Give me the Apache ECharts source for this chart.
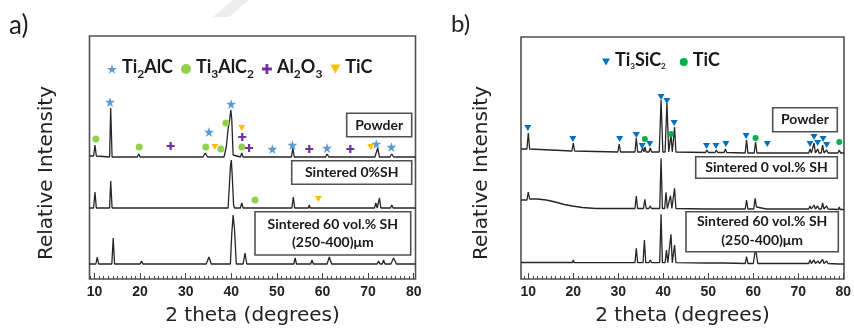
<!DOCTYPE html>
<html><head><meta charset="utf-8">
<script src="https://cdn.jsdelivr.net/npm/echarts@6/dist/echarts.min.js"></script>
<style>html,body{margin:0;padding:0;background:#fff}#c{width:854px;height:330px}</style>
</head><body><div id="c"></div>
<script>
// ---- axis ticks / labels ----
const twoThetaLabels = [10, 20, 30, 40, 50, 60, 70, 80];
const minorTicks = Array.from({length: 72}, (_, i) => 9 + i);

// ---- Panel a) Ti2AlC system : [2theta, intensity (offset included)] ----
const powderA = [[8.9,123],[9.8,123],[10.1,134],[10.4,123],[13.3,122],[13.55,171],[13.85,122],[19.4,122],[19.7,125],[20.0,122],
 [33.8,122],[34.3,126],[34.8,122],[36.4,122],[36.7,124],[37.0,122],[38.4,122],[38.9,132],[39.3,150],[39.6,158],[39.9,169],[40.1,160],[40.4,124],[40.7,122],
 [42.0,122],[42.3,126],[42.6,122],[48.9,122],[49.1,124],[49.3,122],[53.2,122],[53.5,131],[53.8,122],[56.9,122],[57.1,124],[57.3,122],
 [60.7,122],[61.0,125],[61.4,122],[71.5,122],[71.7,124],[72.1,131],[72.5,122],[74.8,122],[75.2,125],[75.6,122],[80.4,122]];
const sintered0A = [[8.9,71],[9.8,71],[10.1,87],[10.4,71],[13.3,71],[13.55,98],[13.85,71],[19.4,71],[19.7,73],[20.0,71],
 [34.1,71],[34.4,73],[34.8,71],[39.3,71],[39.6,95],[39.8,112],[40.0,119],[40.2,104],[40.5,74],[40.7,71],
 [42.0,71],[42.3,76],[42.6,71],[48.9,71],[49.1,72],[49.3,71],[53.3,71],[53.6,82],[53.9,71],[56.9,71],[57.1,74],[57.3,71],
 [60.8,71],[61.1,73],[61.4,71],[71.4,71],[71.7,76],[72.0,71],[72.3,71],[72.5,81],[72.8,71],[74.9,71],[75.2,74],[75.5,71],[80.4,71]];
const sintered60A = [[8.9,15],[10.3,15],[10.6,22],[10.9,15],[13.8,15],[14.1,41],[14.4,15],[20.0,15],[20.3,18],[20.6,15],
 [34.5,15],[35.1,22],[35.6,15],[36.5,15],[36.7,17],[36.9,15],[37.6,15],[37.8,17],[38.0,15],[39.8,15],[40.1,45],[40.4,64],[40.7,50],[41.1,15],
 [42.6,15],[43.0,26],[43.4,15],[49.4,15],[49.6,17],[49.8,15],[53.7,15],[54.0,21],[54.3,15],[57.4,15],[57.7,19],[58.0,15],
 [61.0,15],[61.5,22],[62.0,15],[72.0,15],[72.3,18],[72.6,15],[73.1,15],[73.4,19],[73.7,15],[75.0,15],[75.6,21],[76.2,15],[80.4,15]];
// phase markers a)
const ti2alcMarks = [[13.4,177],[39.95,175],[35.1,147],[49.0,130],[53.4,134],[61.0,131],[71.8,135],[75.1,132]];
const ti3alc2Marks = [[10.3,140],[19.8,132],[34.4,132],[37.7,130],[38.8,156],[42.3,132],[45.2,79]];
const al2o3Marks = [[26.7,133],[42.4,142],[43.9,131],[57.1,130],[66.1,130]];
const ticMarksA = [[36.4,132],[42.3,151],[70.6,132],[59.1,80]];

// ---- Panel b) Ti3SiC2 system ----
const powderB = [[8.4,130],[9.7,130],[10.0,146],[10.3,130],[15,129],[19.7,128],[20.0,136],[20.3,128],[25,127.5],[29.9,127],[30.2,135],[30.5,127],
 [33.7,127],[34.0,141],[34.3,127],[35.1,127],[35.4,131],[35.7,127],[35.9,132],[36.2,127],[36.8,127],[37.1,131],[37.4,127],
 [39.1,127],[39.5,179],[39.9,127],[40.4,127],[40.8,176],[41.2,127],[41.4,127],[41.7,144],[42.0,127],[42.2,127],[42.5,152],[42.8,127],
 [49.4,126.5],[49.7,129],[50.0,126.5],[51.5,126.5],[51.8,129],[52.1,126.5],[53.5,126.5],[53.8,130],[54.1,126.5],[58.2,126],[58.5,139],[58.8,126],
 [60.2,126],[60.5,137],[60.8,126],[62.8,126],[63.1,128],[63.4,126],[72.3,126],[72.6,130],[72.9,126],[73.2,126],[73.5,136],[73.8,126],
 [74.0,126],[74.3,130],[74.6,126],[75.1,126],[75.4,134],[75.7,126],[76.0,126],[76.3,129],[76.6,126],[78.8,126],[79.1,129],[79.4,126],[80.15,126]];
const sintered0B = [[8.4,79],[9.7,79],[10.0,87],[10.3,80],[12,80],[14,79],[16,77],[18,74.5],[19.8,73],[20.0,75],[20.2,72.5],[22,71.5],[25,70.5],
 [30.0,70.5],[30.2,72],[30.4,70.5],[33.7,70.5],[34.0,83],[34.3,70.5],[35.6,70.5],[35.9,79.7],[36.2,70.5],[36.8,70.5],[37.1,73],[37.4,70.5],
 [39.2,70.5],[39.5,120.7],[39.8,70.5],[40.3,70.5],[40.6,86.7],[40.9,70.5],[41.3,70.5],[41.6,83.3],[41.9,70.5],[42.2,70.5],[42.5,90.7],[42.8,70.5],
 [49.5,70],[49.7,72],[49.9,70],[53.6,70],[53.8,72],[54.0,70],[58.2,70],[58.5,79],[58.8,70],[60.1,70],[60.4,80.7],[60.7,72],[60.9,70],
 [62.9,70],[63.1,72],[63.3,70],[72.3,70],[72.6,73],[72.9,70],[73.2,70],[73.5,74],[73.8,70],[74.0,70],[74.3,73],[74.6,70],
 [75.1,70],[75.4,76],[75.7,70],[76.0,70],[76.3,73],[76.6,70],[78.9,69.5],[79.1,72],[79.3,69.5],[80.15,69.5]];
const sintered60B = [[8.4,16.5],[9.8,16.5],[10.0,18.5],[10.2,16.5],[19.8,16.5],[20.0,19],[20.2,16.5],[30.0,16.3],[30.2,18],[30.4,16.3],
 [33.7,16.3],[34.0,30.7],[34.3,16.3],[35.5,16.3],[35.8,39],[36.1,16.3],[36.8,16.3],[37.1,19],[37.4,16.3],
 [39.2,16.3],[39.5,64.7],[39.8,16.3],[40.4,16.3],[40.7,29],[41.0,16.3],[41.4,16.3],[41.7,44.7],[42.0,16.3],[42.2,16.3],[42.5,34],[42.8,16.3],
 [49.5,16],[49.7,17.5],[49.9,16],[53.6,16],[53.8,18],[54.0,16],[58.2,15.5],[58.5,22.3],[58.8,15.5],[60.0,15.5],[60.5,30.7],[61.0,15.5],
 [62.9,15.5],[63.1,17.5],[63.3,15.5],[72.3,15.5],[72.6,19],[72.9,15.5],[73.2,15.5],[73.5,19],[73.8,15.5],[74.1,15.5],[74.4,18],[74.7,15.5],
 [75.1,15.5],[75.4,19.5],[75.7,15.5],[76.0,15.5],[76.3,18],[76.6,15.5],[78.9,15],[79.1,17],[79.3,15],[80.15,15]];
const ti3sic2Marks = [[9.9,151],[19.9,140],[30.3,140],[34.0,144],[35.3,133],[37.0,135],[39.5,182],[40.8,178],[42.4,156],[49.6,133],[51.7,133],
 [53.9,135],[58.4,143],[63.1,135],[72.6,135],[73.5,142],[74.3,136],[75.5,140],[76.3,134]];
const ticMarksB = [[35.9,140],[41.7,145],[60.5,141],[79.1,137]];

// ---- styling ----
const LINE = '#262626', BORDER = '#505050';
const STAR = 'path://M50,0 L61,35 L98,35 L68,57 L79,91 L50,70 L21,91 L32,57 L2,35 L39,35 Z';
const PLUS = 'path://M36,0 H64 V36 H100 V64 H64 V100 H36 V64 H0 V36 H36 Z';
const TRI_DOWN = 'path://M0,0 L100,0 L50,90 Z';
const LEG = {Ti2AlC:'{n|Ti}{s|2}{n|AlC}', Ti3AlC2:'{n|Ti}{s|3}{n|AlC}{s|2}', Al2O3:'{n|Al}{s|2}{n|O}{s|3}', TiC_a:'{n|TiC}',
  Ti3SiC2:'{n|Ti}{t|3}{n|SiC}{t|2}', TiC_b:'{n|TiC}'};
const legendRich = {
  n: {fontFamily:'Lato', fontWeight:'bold', fontSize:18, color:'#1a1a1a', verticalAlign:'bottom', padding:[0,0,4,0]},
  s: {fontFamily:'Lato', fontWeight:'bold', fontSize:12, color:'#1a1a1a', verticalAlign:'bottom'},
  t: {fontFamily:'Lato', fontWeight:'bold', fontSize:8, color:'#1a1a1a', verticalAlign:'bottom', padding:[0,0,3,0]}
};

function xAxesFor(gridIndex, min, max) {
  return [{
    type:'value', gridIndex, min, max, position:'bottom',
    name:'2 theta (degrees)', nameLocation:'middle', nameGap:27,
    nameTextStyle:{fontFamily:'DejaVu Sans', fontSize:20, color:'#222'},
    axisLine:{show:false}, splitLine:{show:false},
    axisTick:{show:true, inside:true, length:3, customValues:minorTicks, lineStyle:{color:'#444', width:1}},
    axisLabel:{show:true, customValues:twoThetaLabels, margin:6, fontFamily:'Liberation Sans', fontWeight:'bold', fontSize:14, color:'#222'}
  }, {
    type:'value', gridIndex, min, max, position:'bottom',
    axisLine:{show:false}, splitLine:{show:false}, axisLabel:{show:false},
    axisTick:{show:true, inside:true, length:6, customValues:twoThetaLabels, lineStyle:{color:'#444', width:1}}
  }];
}
const yAxisBase = {type:'value', min:0, axisLine:{show:false}, axisTick:{show:false}, axisLabel:{show:false}, splitLine:{show:false}};

function trace(data, xi, yi) {
  return {type:'line', data, xAxisIndex:xi, yAxisIndex:yi, showSymbol:false, symbol:'none', z:2,
    lineStyle:{color:LINE, width:1.3}, silent:true};
}
function marks(name, data, xi, yi, symbol, size, color) {
  return {type:'scatter', name, data, xAxisIndex:xi, yAxisIndex:yi, symbol, symbolSize:size, z:3,
    itemStyle:{color, opacity:1}, silent:true};
}

function box(x, y, w, h, lines, lineYs) {
  const els = [{type:'rect', shape:{x, y, width:w, height:h}, style:{fill:'#fff', stroke:BORDER, lineWidth:1.6}, z:10}];
  lines.forEach((t, i) => els.push({type:'text', x: x + w/2, y: lineYs[i], z:11,
    style:{text:t, fill:'#1a1a1a', font:'bold 14px Lato', align:'center', verticalAlign:'middle'}}));
  return els;
}

const option = {
  animation:false,
  backgroundColor:'#fff',
  grid:[
    {left:89.5, top:36, width:326, height:243, show:true, borderColor:BORDER, borderWidth:1.6, backgroundColor:'transparent', outerBoundsMode:'none'},
    {left:521, top:37, width:323, height:242, show:true, borderColor:BORDER, borderWidth:1.6, backgroundColor:'transparent', outerBoundsMode:'none'}
  ],
  xAxis:[...xAxesFor(0, 8.9, 80.4), ...xAxesFor(1, 8.38, 80.15)],
  yAxis:[Object.assign({gridIndex:0, max:243}, yAxisBase), Object.assign({gridIndex:1, max:242}, yAxisBase)],
  legend:[
    {data:['Ti2AlC','Ti3AlC2','Al2O3','TiC_a'], left:102, top:53, itemWidth:10, itemHeight:10, itemGap:8,
     selectedMode:false, formatter:n => LEG[n], textStyle:{rich:legendRich}},
    {data:['Ti3SiC2','TiC_b'], left:597, top:46, itemWidth:8, itemHeight:8, itemGap:14,
     selectedMode:false, formatter:n => LEG[n], textStyle:{rich:legendRich}}
  ],
  series:[
    trace(powderA,0,0), trace(sintered0A,0,0), trace(sintered60A,0,0),
    marks('Ti2AlC', ti2alcMarks, 0, 0, STAR, 10, '#5b9bd5'),
    marks('Ti3AlC2', ti3alc2Marks, 0, 0, 'circle', 7, '#92d050'),
    marks('Al2O3', al2o3Marks, 0, 0, PLUS, 8, '#7030a0'),
    marks('TiC_a', ticMarksA, 0, 0, TRI_DOWN, [7,6], '#ffc000'),
    trace(powderB,2,1), trace(sintered0B,2,1), trace(sintered60B,2,1),
    marks('Ti3SiC2', ti3sic2Marks, 2, 1, TRI_DOWN, [7,6], '#0070c0'),
    marks('TiC_b', ticMarksB, 2, 1, 'circle', 6, '#00b050')
  ],
  graphic:[
    {type:'polygon', shape:{points:[[233,0],[249,0],[229,17],[213,17]]}, style:{fill:'#ececec'}, z:0},
    {type:'text', x:9, y:26, style:{text:'a)', font:'26px Lato', fill:'#222', verticalAlign:'middle'}},
    {type:'text', x:451, y:24, style:{text:'b)', font:'24px Lato', fill:'#222', verticalAlign:'middle'}},
    {type:'text', x:47, y:173, rotation:Math.PI/2, style:{text:'Relative Intensity', font:'20px "DejaVu Sans"', fill:'#222', align:'center', verticalAlign:'middle'}},
    {type:'text', x:482, y:173, rotation:Math.PI/2, style:{text:'Relative Intensity', font:'20px "DejaVu Sans"', fill:'#222', align:'center', verticalAlign:'middle'}},
    ...box(346.7, 113.3, 65, 23.4, ['Powder'], [125]),
    ...box(291.7, 160.7, 120, 23.6, ['Sintered 0%SH'], [172.5]),
    ...box(255, 211.7, 155.7, 43.3, ['Sintered 60 vol.% SH', '(250-400)μm'], [224, 242.7]),
    ...box(772.7, 107.7, 64.6, 24, ['Powder'], [119.7]),
    ...box(695.7, 156.7, 141.6, 21.6, ['Sintered 0 vol.% SH'], [167.5]),
    ...box(686, 211.7, 152.3, 40, ['Sintered 60 vol.% SH', '(250-400)μm'], [221.7, 240.7])
  ]
};
const chart = echarts.init(document.getElementById('c'), null, {renderer:'canvas'});
chart.setOption(option);
</script></body></html>
